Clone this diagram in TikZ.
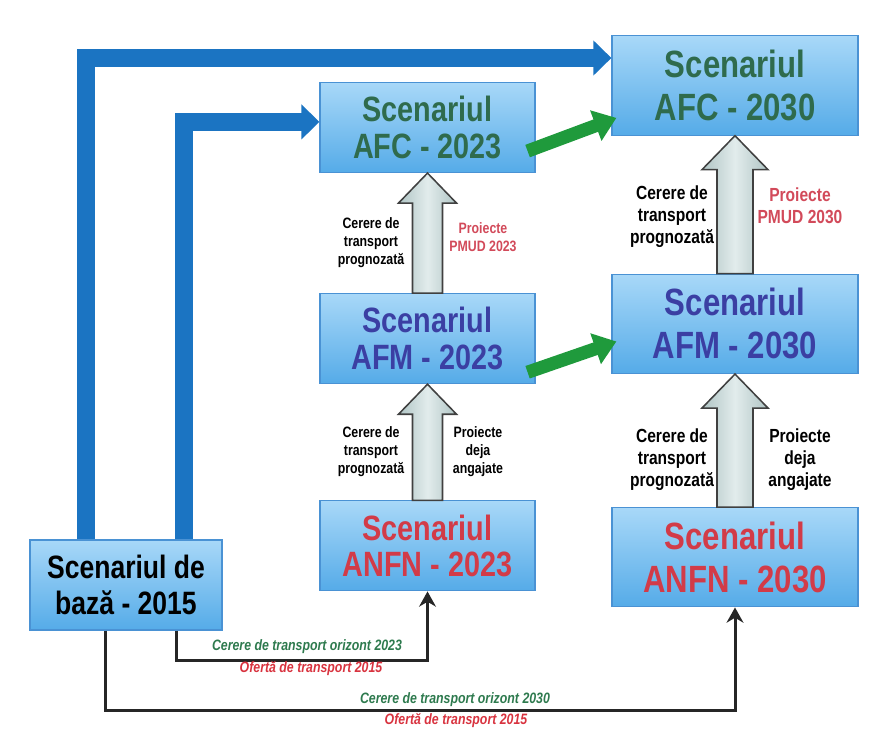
\documentclass[tikz,border=0pt]{standalone}
\usepackage{fontspec}
\setmainfont{Liberation Sans}[FakeStretch=0.82]
\usetikzlibrary{calc,arrows.meta,positioning}
\definecolor{boxtop}{HTML}{A8D8F8}
\definecolor{boxbottom}{HTML}{55ABE8}
\definecolor{boxline}{HTML}{4A92D4}
\definecolor{afcgreen}{HTML}{2F6B4D}
\definecolor{afmblue}{HTML}{3B3FA3}
\definecolor{anfnred}{HTML}{D23B48}
\definecolor{pmudred}{HTML}{D24A5A}
\definecolor{linkblue}{HTML}{1B74C2}
\definecolor{linkgreen}{HTML}{1F9A3C}
\definecolor{greyleft}{HTML}{AFC4C4}
\definecolor{greymid}{HTML}{E2ECEC}
\definecolor{demandgreen}{HTML}{2E7A4E}
\definecolor{offerred}{HTML}{D8333F}
\newcommand{\blockup}[5]{\draw[greyarrow] ($(#1.north)+(-#3,0)$) -- ($(#2.south)+(-#3,#5)$) -- ($(#2.south)+(-#4,#5)$) -- (#2.south) -- ($(#2.south)+(#4,#5)$) -- ($(#2.south)+(#3,#5)$) -- ($(#1.north)+(#3,0)$) -- cycle;}

\begin{document}
\begin{tikzpicture}[x=0.025cm,y=-0.025cm,
  scenbox/.style={draw=boxline,line width=0.8pt,top color=boxtop,bottom color=boxbottom,align=center,inner sep=0pt},
  box2023/.style={scenbox,minimum width=5.375cm,minimum height=2.25cm,font=\fontsize{25}{26}\selectfont\bfseries},
  box2030/.style={scenbox,minimum width=6.15cm,minimum height=2.48cm,font=\fontsize{27}{30.5}\selectfont\bfseries},
  sidelabel/.style={align=center,font=\fontsize{10.7}{12.8}\selectfont\bfseries},
  sidelabelbig/.style={align=center,font=\fontsize{13.5}{15.6}\selectfont\bfseries},
  linklabel/.style={font=\fontsize{10.7}{12}\selectfont\bfseries\itshape},
  bluelink/.style={draw=linkblue,line width=0.45cm,-{Triangle[width=0.85cm,length=0.45cm]}},
  greenlink/.style={draw=linkgreen,line width=0.33cm,-{Triangle[width=0.78cm,length=0.55cm]}},
  feedlink/.style={draw=black!85,line width=0.075cm,-{Stealth[length=0.38cm,width=0.42cm]}},
  greyarrow/.style={draw=black!75,line width=1.1pt,left color=greyleft,right color=greyleft,middle color=greymid}]
\useasboundingbox (0,0) rectangle (890,744);
\node[box2023,text=afcgreen] (afc23) at (427.5,127.5) {Scenariul\\AFC - 2023};
\node[box2023,text=afmblue,below=3cm of afc23] (afm23) {Scenariul\\AFM - 2023};
\node[box2023,text=anfnred,below=2.9cm of afm23] (anfn23) {Scenariul\\ANFN - 2023};
\node[box2030,text=afcgreen] (afc30) at (735,85.5) {Scenariul\\AFC - 2030};
\node[box2030,text=afmblue,below=3.45cm of afc30] (afm30) {Scenariul\\AFM - 2030};
\node[box2030,text=anfnred,below=3.325cm of afm30] (anfn30) {Scenariul\\ANFN - 2030};
\node[scenbox,minimum width=4.8cm,minimum height=2.25cm,font=\fontsize{23}{25}\selectfont\bfseries] (base) at (126,585) {Scenariul de\\bază - 2015};
\draw[bluelink] ([xshift=1.425cm]base.north west) |- ([yshift=0.6875cm]afc30.west);
\draw[bluelink] ([xshift=3.875cm]base.north west) |- ([yshift=0.14cm]afc23.west);
\draw[greenlink] ([shift={(-0.2cm,0.55cm)}]afc23.south east) -- ([shift={(0.125cm,-0.81cm)}]afc30.west);
\draw[greenlink] ([shift={(-0.2cm,0.3cm)}]afm23.south east) -- ([shift={(0.125cm,-0.44cm)}]afm30.west);
\blockup{afm23}{afc23}{15}{29}{30}
\blockup{anfn23}{afm23}{15}{29}{30}
\blockup{afm30}{afc30}{18}{33}{34}
\blockup{anfn30}{afm30}{18}{33}{34}
\draw[feedlink] ([xshift=3.675cm]base.south west) -- ++(0,30) -| (anfn23.south);
\draw[feedlink] ([xshift=1.9cm]base.south west) -- ++(0,80) -| (anfn30.south);
\node[sidelabel] (dem23a) at (371,243) {Cerere de\\transport\\prognozată};
\node[sidelabel,text=pmudred] (pmud23) at (483,237) {Proiecte\\PMUD 2023};
\node[sidelabel] (dem23b) at (371,452) {Cerere de\\transport\\prognozată};
\node[sidelabel] (deja23) at (478,452) {Proiecte\\deja\\angajate};
\node[sidelabelbig] (dem30a) at (672,217) {Cerere de\\transport\\prognozată};
\node[sidelabelbig,text=pmudred] (pmud30) at (800,206) {Proiecte\\PMUD 2030};
\node[sidelabelbig] (dem30b) at (672,460) {Cerere de\\transport\\prognozată};
\node[sidelabelbig] (deja30) at (800,460) {Proiecte\\deja\\angajate};
\node[linklabel,text=demandgreen] (dem2023) at (307,647) {Cerere de transport orizont 2023};
\node[linklabel,text=offerred] (ofr2023) at (311,669) {Ofertă de transport 2015};
\node[linklabel,text=demandgreen] (dem2030) at (455,700) {Cerere de transport orizont 2030};
\node[linklabel,text=offerred] (ofr2030) at (456,721) {Ofertă de transport 2015};
\end{tikzpicture}
\end{document}
